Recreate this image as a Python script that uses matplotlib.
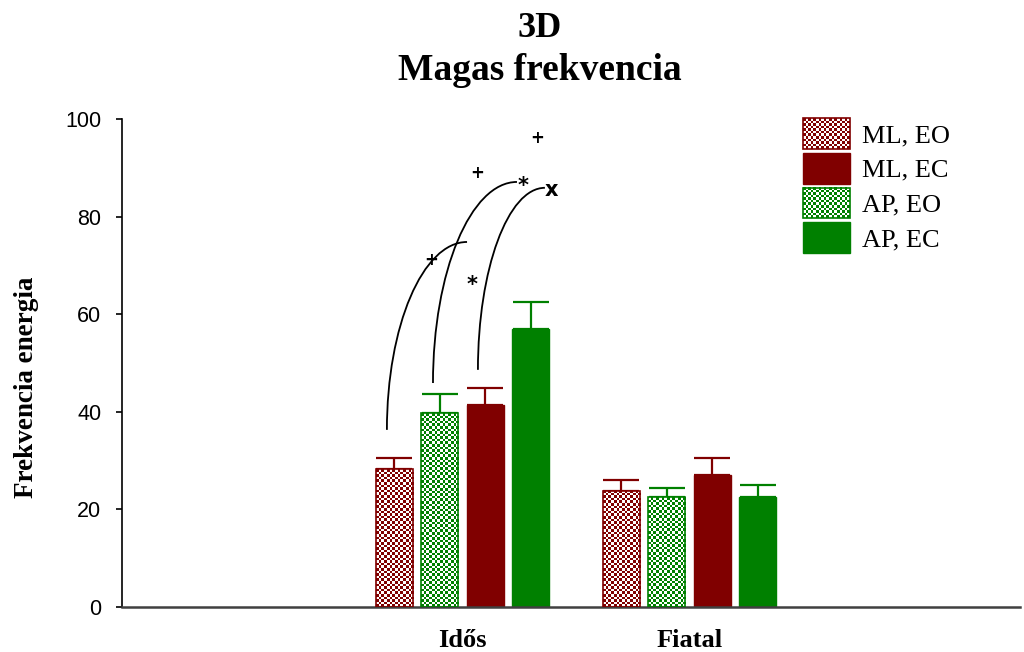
import numpy as np
import matplotlib
matplotlib.use("Agg")
import matplotlib.pyplot as plt
from matplotlib.patches import Rectangle, PathPatch
from matplotlib.path import Path
from matplotlib.legend_handler import HandlerBase, HandlerPatch
from matplotlib.image import BboxImage
from matplotlib.transforms import Bbox, TransformedBbox
from matplotlib.colors import to_rgb

# ---- data ----
groups = ["Idős", "Fiatal"]
series_labels = ["ML, EO", "ML, EC", "AP, EO", "AP, EC"]
ml_eo = [28.2, 23.8]
ml_ec = [41.3, 27.0]
ap_eo = [39.7, 22.5]
ap_ec = [56.9, 22.5]
ml_eo_err = [2.4, 2.2]
ml_ec_err = [3.6, 3.6]
ap_eo_err = [4.0, 1.9]
ap_ec_err = [5.6, 2.4]

yticks = [0, 20, 40, 60, 80, 100]

RED = "#800000"
GREEN = "#008000"
CELL_PX = 2.6
DPI = 100


def checker(nx, ny, color):
    yy, xx = np.mgrid[0:ny, 0:nx]
    img = np.ones((ny, nx, 3))
    img[(xx + yy) % 2 == 0] = to_rgb(color)
    return img


class CheckerHandler(HandlerBase):
    """Legend key filled with a two-colour checkerboard."""

    def create_artists(self, legend, orig_handle, xdescent, ydescent,
                       width, height, fontsize, trans):
        color = orig_handle.get_edgecolor()
        bb = TransformedBbox(Bbox.from_bounds(-xdescent, -ydescent, width, height), trans)
        img = BboxImage(bb, interpolation="nearest")
        nx = max(1, int(round(width * DPI / 72 / CELL_PX)))
        ny = max(1, int(round(height * DPI / 72 / CELL_PX)))
        img.set_data(checker(nx, ny, color))
        edge = Rectangle((-xdescent, -ydescent), width, height,
                         facecolor="none", edgecolor=color, lw=1.2, transform=trans)
        return [img, edge]


fig = plt.figure(figsize=(10.24, 6.52), dpi=DPI)
ax = fig.add_axes([122 / 1024, 1 - 607 / 652, (1020 - 122) / 1024, (607 - 119) / 652])
ax.set_xlim(-1.5, 2.456)
ax.set_ylim(0, 100)

x = np.arange(len(groups))
width = 0.163
# drawing order within each group: ML EO, AP EO, ML EC, AP EC
layout = [
    (-0.3, ml_eo, ml_eo_err, RED, True),
    (-0.1, ap_eo, ap_eo_err, GREEN, True),
    (0.1, ml_ec, ml_ec_err, RED, False),
    (0.3, ap_ec, ap_ec_err, GREEN, False),
]

px_per_x = ax.transData.transform((1, 0))[0] - ax.transData.transform((0, 0))[0]
px_per_y = ax.transData.transform((0, 1))[1] - ax.transData.transform((0, 0))[1]

for off, vals, errs, color, hatched in layout:
    xs = x + off
    ax.errorbar(xs, vals, yerr=[np.zeros(len(vals)), errs], fmt="none",
                ecolor=color, elinewidth=1.6, capsize=13.3, capthick=1.6, zorder=1)
    if hatched:
        bars = ax.bar(xs, vals, width, facecolor="none", edgecolor=color, lw=1.2, zorder=3)
        for rect, v in zip(bars, vals):
            x0 = rect.get_x()
            nx = int(round(width * px_per_x / CELL_PX))
            ny = int(round(v * px_per_y / CELL_PX))
            im = ax.imshow(checker(nx, ny, color), extent=(x0, x0 + width, 0, v),
                           origin="lower", interpolation="nearest", aspect="auto", zorder=2)
            im.set_clip_path(rect)
    else:
        ax.bar(xs, vals, width, color=color, edgecolor=color, lw=1.0, zorder=2)

ax.set_xlim(-1.5, 2.456)
ax.set_ylim(0, 100)

# significance brackets above the Idős group
curves = [
    ((-0.333, 36.3), (0.020, 74.8)),
    ((-0.130, 45.9), (0.240, 87.1)),
    ((0.068, 48.6), (0.363, 85.9)),
]
k = 0.5523
for (x0, y0), (x1, y1) in curves:
    verts = [(x0, y0), (x0, y0 + k * (y1 - y0)), (x1 - k * (x1 - x0), y1), (x1, y1)]
    path = Path(verts, [Path.MOVETO, Path.CURVE4, Path.CURVE4, Path.CURVE4])
    ax.add_patch(PathPatch(path, facecolor="none", edgecolor="black", lw=1.3, zorder=4))

marks = [
    ("+", -0.139, 71.1, 12),
    ("+", 0.064, 88.9, 12),
    ("+", 0.328, 96.1, 12),
    ("*", 0.042, 66.0, 15),
    ("*", 0.267, 86.3, 15),
    ("x", 0.390, 85.5, 15),
]
for s, mx, my, fs in marks:
    ax.text(mx, my, s, ha="center", va="center", fontsize=fs, fontweight="bold",
            family="DejaVu Sans", zorder=5)

# axes styling
for side in ("top", "right"):
    ax.spines[side].set_visible(False)
ax.spines["left"].set_linewidth(1.2)
ax.spines["bottom"].set_linewidth(1.8)
ax.spines["bottom"].set_color("#404040")

ax.set_yticks(yticks)
ax.set_yticklabels([str(t) for t in yticks], family="Liberation Sans", fontsize=15.5)
ax.tick_params(axis="y", direction="out", length=4, width=1.2, pad=11)
ax.set_xticks(x)
ax.set_xticklabels(groups, family="Liberation Serif", fontweight="bold", fontsize=19)
ax.tick_params(axis="x", length=0, pad=15.5)

fig.text(27 / 1024, 1 - 387 / 652, "Frekvencia energia", rotation=90, ha="center", va="center",
         family="Liberation Serif", fontweight="bold", fontsize=19.5)

fig.text(540 / 1024, 1 - 37 / 652, "3D", ha="center", va="baseline",
         family="Liberation Serif", fontweight="bold", fontsize=26)
fig.text(540 / 1024, 1 - 80 / 652, "Magas frekvencia", ha="center", va="baseline",
         family="Liberation Serif", fontweight="bold", fontsize=27)

# legend
h_ml_eo = Rectangle((0, 0), 1, 1, facecolor="white", edgecolor=RED)
h_ml_ec = Rectangle((0, 0), 1, 1, facecolor=RED, edgecolor=RED)
h_ap_eo = Rectangle((0, 0), 1, 1, facecolor="white", edgecolor=GREEN)
h_ap_ec = Rectangle((0, 0), 1, 1, facecolor=GREEN, edgecolor=GREEN)
fig.legend([h_ml_eo, h_ml_ec, h_ap_eo, h_ap_ec], series_labels,
           handler_map={h_ml_eo: CheckerHandler(ypad=0), h_ap_eo: CheckerHandler(ypad=0),
                        h_ml_ec: HandlerPatch(ypad=0), h_ap_ec: HandlerPatch(ypad=0)},
           loc="upper left", bbox_to_anchor=(803 / 1024, 1 - 118 / 652),
           frameon=False, borderpad=0, borderaxespad=0,
           prop={"family": "Liberation Serif", "size": 19},
           handlelength=1.78, handleheight=1.42, labelspacing=0.15, handletextpad=0.45)

fig.savefig("out.png", dpi=DPI)
